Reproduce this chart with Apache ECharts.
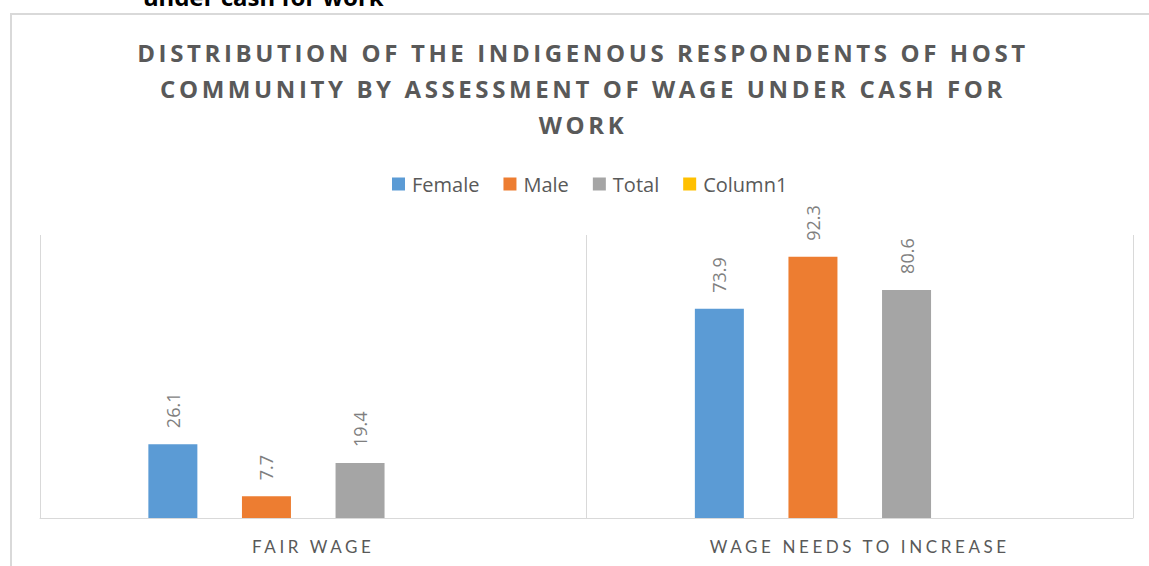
<!DOCTYPE html>
<html>
<head>
<meta charset="utf-8">
<script src="https://cdn.jsdelivr.net/npm/echarts@6/dist/echarts.min.js"></script>
<style>
  html, body { margin: 0; padding: 0; background: #ffffff; }
  #chart { width: 1149px; height: 566px; }
  /* spaced-out capitals for the heading and the category names */
  #chart text[style*="Open Sans"][style*="bold"] { letter-spacing: 3.6px; }
  #chart text[style*="Lato"] { letter-spacing: 3.6px; }
</style>
</head>
<body>
<div id="chart"></div>
<script>
// Assessment of wage under cash for work (percent of respondents)
const categories = ['FAIR WAGE', 'WAGE NEEDS TO INCREASE'];
const female = [26.1, 73.9];
const male = [7.7, 92.3];
const total = [19.4, 80.6];
const column1 = [null, null];

const seriesNames = ['Female', 'Male', 'Total', 'Column1'];
const seriesColors = ['#5B9BD5', '#ED7D31', '#A5A5A5', '#FFC000'];
const seriesData = [female, male, total, column1];

const chart = echarts.init(document.getElementById('chart'), null, { renderer: 'svg' });

const barSeries = seriesNames.map((name, i) => ({
  name: name,
  type: 'bar',
  data: seriesData[i],
  barWidth: 49,
  barGap: '91%',
  itemStyle: { color: seriesColors[i] },
  label: {
    show: true,
    position: 'top',
    rotate: 90,
    align: 'left',
    verticalAlign: 'middle',
    distance: 16,
    color: '#7f7f7f',
    fontFamily: 'Open Sans',
    fontSize: 18,
    formatter: p => (p.value == null ? '' : Number(p.value).toFixed(1))
  }
}));

chart.setOption({
  animation: false,
  backgroundColor: '#ffffff',
  title: {
    text: 'DISTRIBUTION OF THE INDIGENOUS RESPONDENTS OF HOST\nCOMMUNITY BY ASSESSMENT OF WAGE UNDER CASH FOR\nWORK',
    left: 583,
    top: 34,
    padding: 0,
    textAlign: 'center',
    textStyle: {
      fontFamily: 'Open Sans',
      fontWeight: 'bold',
      fontSize: 24,
      lineHeight: 36,
      color: '#595959'
    }
  },
  legend: {
    data: seriesNames,
    left: 392,
    top: 174,
    padding: 0,
    icon: 'rect',
    itemWidth: 13,
    itemHeight: 13,
    itemGap: 24,
    textStyle: {
      fontFamily: 'Open Sans',
      fontSize: 20,
      color: '#595959',
      padding: [0, 0, 0, 2]
    }
  },
  grid: { left: 40, right: 16, top: 235, bottom: 48, containLabel: false },
  xAxis: {
    type: 'category',
    data: categories,
    boundaryGap: true,
    axisTick: { show: false },
    axisLine: { lineStyle: { color: '#d9d9d9', width: 1 } },
    splitLine: { show: true, lineStyle: { color: '#d9d9d9', width: 1 } },
    axisLabel: {
      margin: 20,
      fontFamily: 'Lato',
      fontSize: 17,
      color: '#595959'
    }
  },
  yAxis: {
    type: 'value',
    min: 0,
    max: 100,
    show: false,
    splitLine: { show: false }
  },
  graphic: [
    {
      type: 'rect',
      silent: true,
      shape: { x: 11, y: 14, width: 1200, height: 600 },
      style: { fill: 'none', stroke: '#d9d9d9', lineWidth: 2 }
    },
    {
      type: 'text',
      silent: true,
      x: 143,
      y: -4,
      style: {
        text: 'under cash for work',
        fontFamily: 'Noto Sans',
        fontWeight: 'bold',
        fontSize: 24,
        fill: '#000000',
        verticalAlign: 'middle'
      }
    }
  ],
  series: barSeries
});
</script>
</body>
</html>
